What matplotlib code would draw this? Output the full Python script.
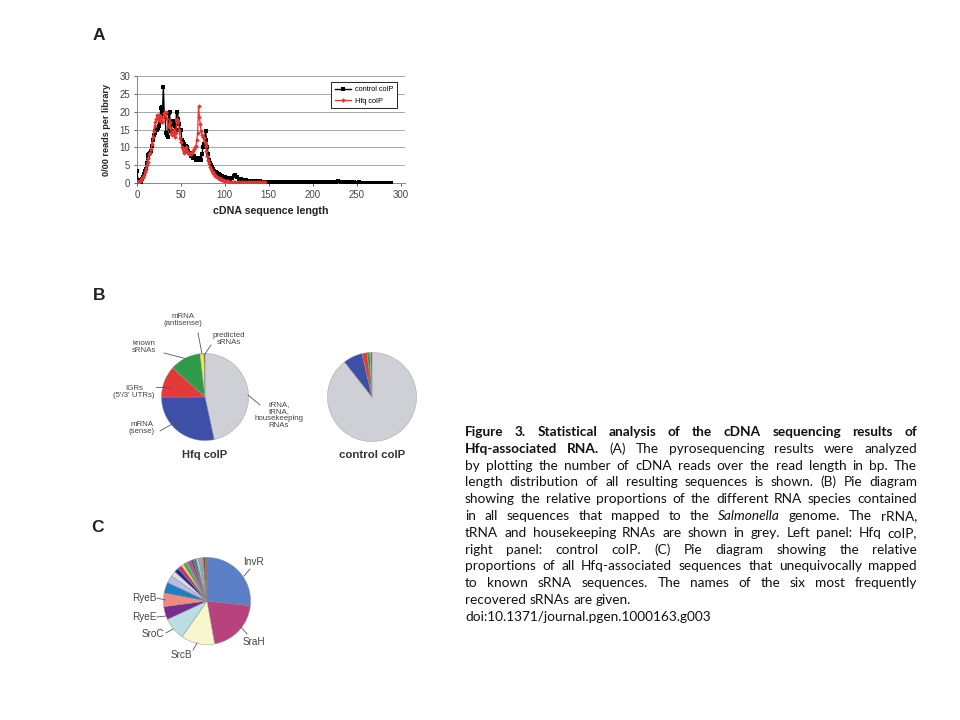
import matplotlib
matplotlib.use('Agg')
import matplotlib.pyplot as plt
from matplotlib.lines import Line2D

plt.rcParams['font.family'] = ['Liberation Sans', 'DejaVu Sans']

# ---- panel A: read length distribution ----
ctrl_len = list(range(0, 101)) + list(range(102, 150, 2)) + list(range(151, 290, 3))
ctrl_reads = [
    3.3, 0.8, 0.3, 0.2, 0.3, 0.5, 1.0, 1.8, 2.5, 3.3,
    4.0, 5.5, 7.0, 7.8, 8.0, 8.3, 9.0, 10.5, 12.0, 13.5,
    14.0, 14.5, 15.2, 15.0, 15.5, 16.0, 17.0, 21.0, 21.3, 19.5,
    27.0, 19.0, 18.5, 14.0, 13.5, 13.0, 19.5, 20.0, 15.5, 14.5,
    16.5, 17.5, 16.5, 16.0, 15.0, 20.0, 20.0, 18.0, 16.5, 15.0,
    15.0, 12.0, 11.5, 11.0, 11.0, 10.5, 10.5, 10.0, 9.0, 8.5,
    8.5, 8.0, 7.5, 7.5, 7.0, 7.5, 7.0, 6.5, 7.0, 6.5,
    7.0, 6.8, 7.0, 6.5, 8.0, 10.0, 11.0, 12.5, 14.7, 12.0,
    10.0, 8.0, 6.5, 5.5, 5.0, 4.5, 4.0, 3.8, 3.5, 3.2,
    3.0, 2.8, 2.6, 2.5, 2.3, 2.2, 2.0, 1.9, 1.8, 1.7,
    1.6,
    1.4, 1.3, 1.2, 1.4, 2.0, 2.3, 1.6, 1.2, 1.0, 0.9,
    0.8, 0.8, 0.7, 0.7, 0.6, 0.6, 0.5, 0.5, 0.6, 0.5,
    0.4, 0.4, 0.4, 0.3,
    0.3, 0.3, 0.3, 0.3, 0.3, 0.2, 0.3, 0.2, 0.2, 0.3,
    0.2, 0.2, 0.2, 0.3, 0.2, 0.2, 0.2, 0.2, 0.3, 0.2,
    0.2, 0.2, 0.2, 0.2, 0.3, 0.4, 0.5, 0.4, 0.3, 0.2,
    0.2, 0.2, 0.2, 0.1, 0.2, 0.1, 0.1, 0.1, 0.1, 0.1,
    0.1, 0.1, 0.1, 0.1, 0.1, 0.1, 0.1,
]

hfq_len = list(range(0, 101)) + list(range(102, 148, 2))
hfq_reads = [
    0.5, 0.3, 0.4, 0.6, 0.8, 1.0, 1.3, 1.8, 2.3, 3.0,
    4.0, 5.0, 6.0, 7.0, 8.0, 8.5, 9.5, 11.0, 13.0, 14.5,
    16.0, 17.0, 18.0, 19.0, 18.0, 19.0, 17.5, 18.5, 17.0, 17.5,
    18.5, 19.5, 19.0, 20.0, 18.0, 16.0, 16.5, 15.5, 17.0, 14.0,
    13.5, 14.5, 15.0, 13.0, 14.0, 17.0, 18.0, 17.5, 15.0, 12.5,
    11.5, 10.0, 9.5, 8.5, 9.0, 9.5, 10.0, 9.0, 8.5, 8.0,
    8.0, 8.5, 8.0, 8.5, 9.0, 9.5, 10.0, 10.5, 12.0, 14.0,
    21.5, 18.5, 16.5, 14.5, 13.5, 13.0, 12.5, 11.5, 10.5, 9.0,
    7.5, 6.5, 5.5, 4.5, 4.0, 3.5, 3.0, 2.7, 2.4, 2.1,
    1.9, 1.7, 1.5, 1.3, 1.2, 1.1, 1.0, 0.9, 0.8, 0.7,
    0.6,
    0.5, 0.5, 0.4, 0.4, 0.3, 0.3, 0.3, 0.3, 0.3, 0.2,
    0.2, 0.2, 0.2, 0.2, 0.2, 0.2, 0.2, 0.2, 0.2, 0.2,
    0.2, 0.2, 0.2,
]

# ---- panel B: RNA classes (percent) ----
b_classes = ['rRNA,\ntRNA,\nhousekeeping\nRNAs', 'mRNA\n(sense)', 'IGRs\n(5\'/3\' UTRs)',
             'known\nsRNAs', 'mRNA\n(antisense)', 'predicted\nsRNAs']
b_hfq = [46.6, 28.4, 11.7, 11.5, 1.4, 0.4]
b_ctrl = [89.4, 7.0, 1.8, 1.0, 0.3, 0.5]
b_colors = ['#cfd0d6', '#3d4fa6', '#e23a36', '#2f9a47', '#f4ef3c', '#6e6a50']

# ---- panel C: known sRNAs (percent) ----
c_names = ['InvR', 'SraH', 'SrcB', 'SroC', 'RyeE', 'RyeB'] + [''] * 17
c_share = [26.8, 20.4, 12.5, 8.4, 4.8, 5.1,
           4.0, 2.8, 2.0, 1.6, 1.6, 1.0, 0.9, 0.8, 1.3, 0.7, 0.6, 0.6, 1.0, 1.0, 0.6, 0.8, 0.7]
c_colors = ['#5b80c8', '#b8437c', '#f8f6cc', '#b9dfe5', '#7a2b90', '#f08a80',
            '#1f7ec2', '#b9bbe2', '#d8dcea', '#242a80', '#c22f8e', '#f3e624', '#48a84a',
            '#3fb4c4', '#c7486e', '#4a3a6a', '#2a8a8a', '#3558a8', '#a9cbe4', '#a4a4a8',
            '#c6aa86', '#5e5e62', '#8a6a4a']

W, H = 960, 720
fig = plt.figure(figsize=(W / 100, H / 100), dpi=100)


def fx(x):
    return x / W


def fy(y):
    return 1 - y / H


def px_axes(x0, y0, w, h):
    return fig.add_axes([x0 / W, 1 - (y0 + h) / H, w / W, h / H])


def leader(x0, y0, x1, y1):
    fig.add_artist(Line2D([fx(x0), fx(x1)], [fy(y0), fy(y1)], color='#555555', lw=0.6))


# panel letters
for letter, (lx, ly) in zip('ABC', [(99, 35), (99, 295), (98, 527)]):
    fig.text(fx(lx), fy(ly), letter, fontsize=12.5, fontweight='bold', ha='center', va='center',
             color='#222222')

# ---- A ----
ax = px_axes(137, 76, 268, 107)
ax.plot(ctrl_len, ctrl_reads, color='black', lw=1.0, marker='s', ms=3.1, mew=0,
        label='control coIP', zorder=3)
ax.plot(hfq_len, hfq_reads, color='#e8322d', lw=0.9, marker='D', ms=2.3, mew=0,
        label='Hfq coIP', zorder=4)
ax.set_xlim(0, 305)
ax.set_ylim(0, 30)
ax.set_xticks(range(0, 301, 50))
ax.set_yticks(range(0, 31, 5))
ax.yaxis.grid(True, color='#9a9a9a', lw=0.6)
ax.set_axisbelow(True)
for s in ['top', 'right']:
    ax.spines[s].set_visible(False)
for s in ['left', 'bottom']:
    ax.spines[s].set_color('#888888')
    ax.spines[s].set_linewidth(0.7)
ax.tick_params(labelsize=6.9, colors='#444444', length=2, width=0.6, pad=3)
ax.set_xlabel('cDNA sequence length', fontsize=7.7, fontweight='bold', labelpad=4, color='#222222')
ax.set_ylabel('0/00 reads per library', fontsize=6.6, fontweight='bold', labelpad=6, color='#222222')
leg = ax.legend(loc='upper left', bbox_to_anchor=(0.71, 0.975), fontsize=5.3, frameon=True,
                fancybox=False, edgecolor='black', framealpha=1, handlelength=2.2,
                borderpad=0.5, labelspacing=0.6, handletextpad=0.5)
leg.get_frame().set_linewidth(0.6)

# ---- B ----
wedge_kw = dict(edgecolor='#9a9a9a', linewidth=0.3)
axb1 = px_axes(161, 353, 88, 88)
axb1.pie(b_hfq, colors=b_colors, startangle=90, counterclock=False, wedgeprops=wedge_kw)
axb1.set_xlim(-1.01, 1.01)
axb1.set_ylim(-1.01, 1.01)
axb2 = px_axes(327, 352, 90, 90)
axb2.pie(b_ctrl, colors=b_colors, startangle=90, counterclock=False, wedgeprops=wedge_kw)
axb2.set_xlim(-1.01, 1.01)
axb2.set_ylim(-1.01, 1.01)

b_pos = [(279, 415), (142, 428), (134, 392), (144, 347), (183, 320), (229, 339)]
b_lines = [(248, 395, 260, 405), (160, 431, 179, 420), (156, 387, 171, 387),
           (164, 353, 187, 359), (198, 333, 202, 354), (211, 345, 205, 354)]
for name, (tx, ty), seg in zip(b_classes, b_pos, b_lines):
    fig.text(fx(tx), fy(ty), name, fontsize=5.7, ha='center', va='center',
             multialignment='center', color='#444444', linespacing=1.05)
    leader(*seg)
fig.text(fx(205), fy(455), 'Hfq coIP', fontsize=8, fontweight='bold', ha='center', va='center',
         color='#333333')
fig.text(fx(372), fy(455), 'control coIP', fontsize=8.2, fontweight='bold', ha='center',
         va='center', color='#333333')

# ---- C ----
axc = px_axes(163, 557, 88, 88)
axc.pie(c_share, colors=c_colors, startangle=90, counterclock=False,
        wedgeprops=dict(edgecolor='#8a8a8a', linewidth=0.3))
axc.set_xlim(-1.01, 1.01)
axc.set_ylim(-1.01, 1.01)
c_pos = [(253, 562), (254, 642), (181, 655), (153, 634), (144, 617), (144, 598)]
c_lines = [(250, 569, 244, 576), (247, 634, 241, 627), (193, 650, 197, 643),
           (166, 633, 173, 629), (157, 617, 166, 616), (157, 598, 165, 600)]
for name, (tx, ty), seg in zip(c_names[:6], c_pos, c_lines):
    fig.text(fx(tx), fy(ty), name, fontsize=7.2, ha='center', va='center', color='#444444')
    leader(*seg)

# ---- caption (justified) ----
caption = [
    ([('Figure 3. Statistical analysis of the cDNA sequencing results of', 'bold')], True),
    ([('Hfq-associated RNA.', 'bold'), ('(A) The pyrosequencing results were analyzed', 'normal')], True),
    ([('by plotting the number of cDNA reads over the read length in bp. The', 'normal')], True),
    ([('length distribution of all resulting sequences is shown. (B) Pie diagram', 'normal')], True),
    ([('showing the relative proportions of the different RNA species contained', 'normal')], True),
    ([('in all sequences that mapped to the', 'normal'), ('Salmonella', 'italic'),
      ('genome. The rRNA,', 'normal')], True),
    ([('tRNA and housekeeping RNAs are shown in grey. Left panel: Hfq coIP,', 'normal')], True),
    ([('right panel: control coIP. (C) Pie diagram showing the relative', 'normal')], True),
    ([('proportions of all Hfq-associated sequences that unequivocally mapped', 'normal')], True),
    ([('to known sRNA sequences. The names of the six most frequently', 'normal')], True),
    ([('recovered sRNAs are given.', 'normal')], False),
    ([('doi:10.1371/journal.pgen.1000163.g003', 'normal')], False),
]

cap_left, cap_right = 465, 917
cap_top, cap_step = 436, 16.8
cap_size = 9.8
renderer = fig.canvas.get_renderer()


def style_kw(style, size):
    kw = dict(family=['Lato', 'DejaVu Sans'], fontsize=size, color='#111111')
    if style == 'bold':
        kw['fontweight'] = 'bold'
    elif style == 'italic':
        kw['fontstyle'] = 'italic'
    return kw


def measure(word, style, size):
    t = fig.text(0, 0, word, **style_kw(style, size))
    w = t.get_window_extent(renderer).width
    t.remove()
    return w


for i, (segs, just) in enumerate(caption):
    words = [(w, style) for text, style in segs for w in text.split()]
    size = cap_size
    space = measure('a a', 'normal', size) - measure('aa', 'normal', size)
    widths = [measure(w, s, size) for w, s in words]
    # shrink a line slightly if it cannot fit with at least a thin gap
    while just and sum(widths) + 0.6 * space * (len(words) - 1) > cap_right - cap_left:
        size -= 0.1
        space = measure('a a', 'normal', size) - measure('aa', 'normal', size)
        widths = [measure(w, s, size) for w, s in words]
    gap = (cap_right - cap_left - sum(widths)) / (len(words) - 1) if just else space
    x = cap_left
    y = cap_top + i * cap_step
    for (w, s), wd in zip(words, widths):
        fig.text(fx(x), fy(y), w, va='baseline', ha='left', **style_kw(s, size))
        x += wd + gap

fig.savefig('out.png', dpi=100)
